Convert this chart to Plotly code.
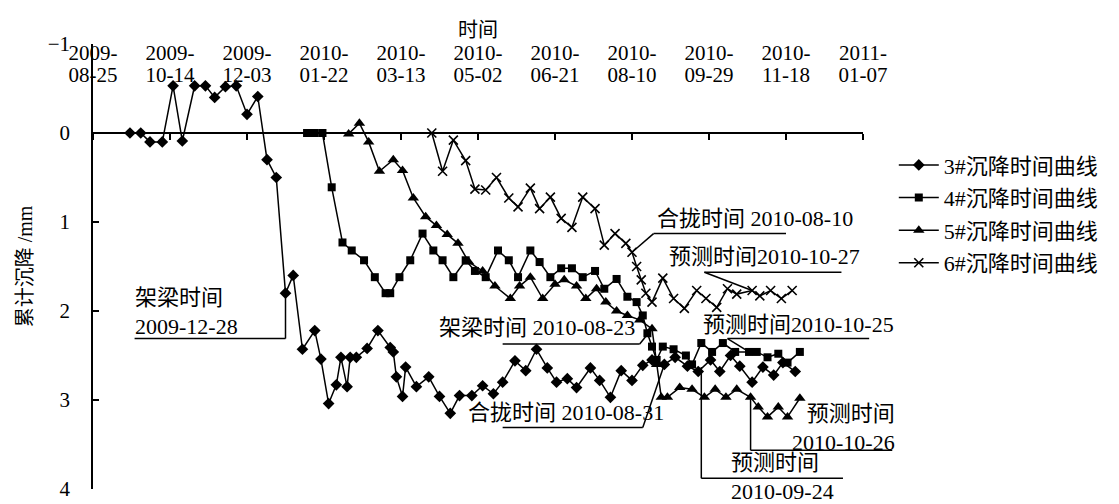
import plotly.graph_objects as go
import pandas as pd

FONT = "Liberation Serif, Noto Sans CJK SC, serif"
START = "2009-08-25"
END = "2011-01-07"

# axis ticks
tick_dates = ["2009-08-25", "2009-10-14", "2009-12-03", "2010-01-22", "2010-03-13", "2010-05-02",
              "2010-06-21", "2010-08-10", "2010-09-29", "2010-11-18", "2011-01-07"]
tick_line1 = ["2009-", "2009-", "2009-", "2010-", "2010-", "2010-", "2010-", "2010-", "2010-", "2010-", "2011-"]
tick_line2 = ["08-25", "10-14", "12-03", "01-22", "03-13", "05-02", "06-21", "08-10", "09-29", "11-18", "01-07"]
y_tickvals = [-1, 0, 1, 2, 3, 4]
y_ticktext = ["\u22121", "0", "1", "2", "3", "4"]

# series 3#
s3_dates = ["2009-09-18", "2009-09-25", "2009-10-01", "2009-10-09", "2009-10-16", "2009-10-22", "2009-10-30",
            "2009-11-06", "2009-11-12", "2009-11-19", "2009-11-26", "2009-12-03", "2009-12-10", "2009-12-16",
            "2009-12-22", "2009-12-28", "2010-01-02", "2010-01-08", "2010-01-16", "2010-01-20", "2010-01-25",
            "2010-01-30", "2010-02-02", "2010-02-06", "2010-02-08", "2010-02-12", "2010-02-19", "2010-02-26",
            "2010-03-06", "2010-03-08", "2010-03-10", "2010-03-14", "2010-03-16", "2010-03-23", "2010-03-31",
            "2010-04-07", "2010-04-14", "2010-04-20", "2010-04-28", "2010-05-05", "2010-05-12", "2010-05-18",
            "2010-05-26", "2010-06-02", "2010-06-09", "2010-06-16", "2010-06-22", "2010-06-29", "2010-07-05",
            "2010-07-14", "2010-07-20", "2010-07-27", "2010-08-03", "2010-08-10", "2010-08-17", "2010-08-23",
            "2010-08-31", "2010-09-07", "2010-09-15", "2010-09-22", "2010-09-30", "2010-10-06", "2010-10-13",
            "2010-10-19", "2010-10-27", "2010-11-03", "2010-11-10", "2010-11-16", "2010-11-24"]
s3_vals = [0, 0, 0.1, 0.1, -0.53, 0.09, -0.53, -0.53, -0.4, -0.52, -0.53, -0.21, -0.41, 0.3, 0.5, 1.8, 1.6,
           2.43, 2.22, 2.54, 3.04, 2.83, 2.52, 2.85, 2.52, 2.52, 2.42, 2.22, 2.41, 2.46, 2.74, 2.96, 2.63, 2.85,
           2.74, 2.96, 3.15, 2.95, 2.95, 2.84, 2.93, 2.8, 2.56, 2.67, 2.43, 2.64, 2.8, 2.76, 2.86, 2.64, 2.78,
           2.97, 2.67, 2.78, 2.61, 2.55, 2.6, 2.52, 2.62, 2.68, 2.55, 2.68, 2.5, 2.62, 2.8, 2.63, 2.72, 2.58, 2.68]

# series 4#
s4_dates = ["2010-01-11", "2010-01-16", "2010-01-21", "2010-01-27", "2010-02-03", "2010-02-09", "2010-02-17",
            "2010-02-24", "2010-03-03", "2010-03-06", "2010-03-12", "2010-03-19", "2010-03-27", "2010-04-03",
            "2010-04-09", "2010-04-16", "2010-04-24", "2010-04-30", "2010-05-07", "2010-05-15", "2010-05-22",
            "2010-05-28", "2010-06-05", "2010-06-11", "2010-06-18", "2010-06-25", "2010-07-02", "2010-07-09",
            "2010-07-17", "2010-07-23", "2010-07-31", "2010-08-07", "2010-08-13", "2010-08-17", "2010-08-20",
            "2010-08-23", "2010-08-26", "2010-08-30", "2010-09-06", "2010-09-14", "2010-09-18", "2010-09-24",
            "2010-10-01", "2010-10-08", "2010-10-16", "2010-10-25", "2010-10-30", "2010-11-06", "2010-11-13",
            "2010-11-19", "2010-11-27"]
s4_vals = [0, 0, 0, 0.61, 1.23, 1.32, 1.43, 1.62, 1.8, 1.8, 1.62, 1.43, 1.13, 1.32, 1.43, 1.62, 1.43, 1.55,
           1.62, 1.32, 1.43, 1.62, 1.32, 1.45, 1.62, 1.52, 1.52, 1.62, 1.55, 1.75, 1.64, 1.84, 1.9, 2.05, 2.25,
           2.4, 2.55, 2.4, 2.43, 2.5, 2.6, 2.36, 2.46, 2.36, 2.46, 2.46, 2.46, 2.52, 2.48, 2.58, 2.46]

# series 5#
s5_dates = ["2010-02-07", "2010-02-14", "2010-02-20", "2010-02-27", "2010-03-08", "2010-03-14", "2010-03-21",
            "2010-03-29", "2010-04-05", "2010-04-12", "2010-04-19", "2010-04-26", "2010-05-05", "2010-05-13",
            "2010-05-23", "2010-05-29", "2010-06-05", "2010-06-13", "2010-06-21", "2010-06-27", "2010-07-05",
            "2010-07-11", "2010-07-18", "2010-07-24", "2010-07-31", "2010-08-07", "2010-08-15", "2010-08-23",
            "2010-08-26", "2010-08-29", "2010-09-02", "2010-09-10", "2010-09-18", "2010-09-26", "2010-10-03",
            "2010-10-10", "2010-10-17", "2010-10-26", "2010-10-31", "2010-11-06", "2010-11-13", "2010-11-19",
            "2010-11-27"]
s5_vals = [0.01, -0.11, 0.1, 0.43, 0.3, 0.42, 0.73, 0.94, 1.04, 1.14, 1.24, 1.45, 1.55, 1.72, 1.86, 1.72, 1.62,
           1.86, 1.7, 1.65, 1.72, 1.86, 1.75, 1.9, 2.0, 2.05, 2.1, 2.2, 2.6, 2.97, 2.97, 2.86, 2.88, 2.97, 2.88,
           2.97, 2.88, 2.97, 3.08, 3.19, 3.08, 3.19, 2.98]

# series 6#
s6_dates = ["2010-04-02", "2010-04-09", "2010-04-16", "2010-04-24", "2010-04-30", "2010-05-07", "2010-05-14",
            "2010-05-22", "2010-05-28", "2010-06-05", "2010-06-11", "2010-06-18", "2010-06-25", "2010-07-02",
            "2010-07-09", "2010-07-17", "2010-07-23", "2010-07-30", "2010-08-06", "2010-08-10", "2010-08-13",
            "2010-08-16", "2010-08-19", "2010-08-23", "2010-08-30", "2010-09-06", "2010-09-13", "2010-09-21",
            "2010-09-27", "2010-10-04", "2010-10-11", "2010-10-17", "2010-10-27", "2010-11-01", "2010-11-08",
            "2010-11-15", "2010-11-22"]
s6_vals = [0, 0.43, 0.08, 0.31, 0.63, 0.64, 0.5, 0.73, 0.83, 0.62, 0.85, 0.72, 0.96, 1.06, 0.72, 0.85, 1.26,
           1.13, 1.24, 1.34, 1.5, 1.65, 1.8, 1.9, 1.63, 1.86, 1.97, 1.77, 1.86, 1.96, 1.75, 1.81, 1.77, 1.83,
           1.77, 1.86, 1.77]

series_names = ["3#沉降时间曲线", "4#沉降时间曲线", "5#沉降时间曲线", "6#沉降时间曲线"]

fig = go.Figure()
marker_styles = [
    dict(symbol="diamond", size=9, color="black"),
    dict(symbol="square", size=8, color="black"),
    dict(symbol="triangle-up", size=10, color="black"),
    dict(symbol="x-thin", size=9, color="black", line=dict(width=1.6, color="black")),
]
for i, (xs, ys) in enumerate([(s3_dates, s3_vals), (s4_dates, s4_vals), (s5_dates, s5_vals), (s6_dates, s6_vals)]):
    fig.add_trace(go.Scatter(x=xs, y=ys, mode="lines+markers", name=series_names[i],
                             legendgroup=f"g{i}", line=dict(color="black", width=1.5),
                             marker=marker_styles[i], hoverinfo="skip"))

# carrier traces for the two label rows at the top
for ax in ["x2", "x3"]:
    fig.add_trace(go.Scatter(x=tick_dates, y=[None] * len(tick_dates), xaxis=ax, yaxis="y",
                             mode="lines", showlegend=False, hoverinfo="skip"))

t0 = pd.Timestamp(START)
t1 = pd.Timestamp(END)


def xp(d):
    return (pd.Timestamp(d) - t0) / (t1 - t0)


def seg(d0, v0, d1, v1):
    fig.add_shape(type="line", xref="paper", yref="y", x0=xp(d0), y0=v0, x1=xp(d1), y1=v1,
                  line=dict(color="black", width=1.5))


def label(text, d, v, xanchor="left", align="left"):
    fig.add_annotation(text=text, xref="paper", yref="y", x=xp(d), y=v, xanchor=xanchor, yanchor="middle",
                       align=align, showarrow=False, font=dict(family=FONT, size=22, color="black"))


# 架梁时间 2009-12-28
label("架梁时间<br>2009-12-28", "2009-09-20", 2.01)
seg("2009-09-21", 2.31, "2009-12-28", 2.31)
seg("2009-12-28", 2.31, "2009-12-28", 1.8)
# 架梁时间 2010-08-23
label("架梁时间 2010-08-23", "2010-08-13", 2.18, xanchor="right")
seg("2010-05-18", 2.37, "2010-08-15", 2.37)
seg("2010-08-15", 2.37, "2010-08-23", 2.2)
# 合拢时间 2010-08-31
label("合拢时间 2010-08-31", "2010-04-24", 3.14)
seg("2010-05-18", 3.31, "2010-08-17", 3.31)
seg("2010-08-17", 3.31, "2010-08-31", 2.6)
# 合拢时间 2010-08-10
label("合拢时间 2010-08-10", "2010-08-25", 0.96)
seg("2010-08-24", 1.13, "2010-11-18", 1.13)
seg("2010-08-24", 1.13, "2010-08-10", 1.34)
# 预测时间2010-10-27
label("预测时间2010-10-27", "2010-09-02", 1.39)
seg("2010-09-26", 1.565, "2010-12-24", 1.565)
seg("2010-09-26", 1.565, "2010-10-27", 1.77)
# 预测时间2010-10-25
label("预测时间2010-10-25", "2010-09-24", 2.15)
seg("2010-10-11", 2.31, "2011-01-11", 2.31)
seg("2010-10-11", 2.31, "2010-10-25", 2.46)
# 预测时间 2010-10-26
label("预测时间<br>2010-10-26", "2011-01-29", 3.32, xanchor="right", align="right")
seg("2010-10-26", 3.565, "2011-01-26", 3.565)
seg("2010-10-26", 3.565, "2010-10-26", 2.97)
# 预测时间 2010-09-24
label("预测时间<br>2010-09-24", "2010-10-12", 3.87)
seg("2010-09-24", 2.63, "2010-09-24", 3.88)
seg("2010-09-24", 3.88, "2010-12-25", 3.88)

tickfont = dict(family=FONT, size=21, color="black")
fig.update_layout(
    width=1119, height=504,
    margin=dict(l=93, r=256, t=44, b=15),
    paper_bgcolor="white", plot_bgcolor="white",
    font=dict(family=FONT, size=22, color="black"),
    showlegend=True,
    xaxis=dict(type="date", range=[START, END], anchor="free", position=0.8, showline=True,
               linecolor="black", linewidth=1.5, ticks="outside", ticklen=6, tickwidth=1.5,
               tickcolor="black", tickvals=tick_dates, showticklabels=False, showgrid=False, zeroline=False,
               automargin=False),
    xaxis2=dict(type="date", range=[START, END], overlaying="x", side="top", anchor="free", position=0.955,
                tickvals=tick_dates, ticktext=tick_line1, ticks="", showline=False, showgrid=False,
                zeroline=False, tickfont=tickfont, automargin=False),
    xaxis3=dict(type="date", range=[START, END], overlaying="x", side="top", anchor="free", position=0.905,
                tickvals=tick_dates, ticktext=tick_line2, ticks="", showline=False, showgrid=False,
                zeroline=False, tickfont=tickfont, automargin=False,
                title=dict(text="时间", standoff=19, font=dict(family=FONT, size=20, color="black"))),
    yaxis=dict(range=[4, -1], anchor="x", tickvals=y_tickvals, ticktext=y_ticktext, ticks="inside",
               ticklen=6, tickwidth=1.5, tickcolor="black", showline=True, linecolor="black", linewidth=1.5,
               showgrid=False, zeroline=False, tickfont=tickfont, ticklabelstandoff=17, automargin=False,
               title=dict(text="累计沉降 /mm", standoff=10, font=dict(family=FONT, size=20, color="black"))),
    legend=dict(x=1.04, y=0.775, xanchor="left", yanchor="top", traceorder="grouped", tracegroupgap=1,
                itemwidth=40, font=dict(family=FONT, size=22, color="black"), bgcolor="rgba(0,0,0,0)"),
)

fig.write_html("out.html")
